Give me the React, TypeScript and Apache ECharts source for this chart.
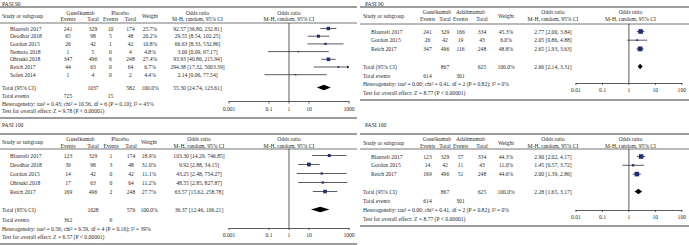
import React, { useEffect, useRef } from "react";
import * as echarts from "echarts";

// ---------- PASI 90: Guselkumab vs Placebo ----------
const p90pTitle = "PASI 90";
const p90pControl = "Placebo";
const p90pStudies = ["Blauvelt 2017", "Deodhar 2018", "Gordon 2015", "Nemoto 2018", "Ohtsuki 2018", "Reich 2017", "Sofen 2014"];
const p90pGusEvents = [241, 65, 26, 1, 347, 44, 1];
const p90pGusTotal = [329, 98, 42, 5, 496, 63, 4];
const p90pCtlEvents = [10, 5, 1, 0, 6, 0, 0];
const p90pCtlTotal = [174, 48, 42, 4, 248, 64, 2];
const p90pWeight = [25.7, 20.2, 10.8, 4.8, 27.4, 6.7, 4.4];
const p90pOR = [92.57, 29.55, 66.63, 3.0, 93.93, 294.38, 2.14];
const p90pLo = [36.8, 8.54, 8.33, 0.09, 40.86, 17.32, 0.06];
const p90pHi = [232.81, 102.25, 532.86, 97.17, 215.94, 5003.39, 77.54];
const p90pTotal = [55.3, 24.74, 123.61]; // OR, lo, hi
const p90pTotals = [1037, 582]; // guselkumab total, control total
const p90pTotalEvents = [725, 15];
const p90pHet = "Heterogeneity: tau² = 0.43; chi² = 10.56, df = 6 (P = 0.10); I² = 43%";
const p90pTest = "Test for overall effect: Z = 9.78 (P < 0.00001)";

// ---------- PASI 90: Guselkumab vs Adalimumab ----------
const p90aTitle = "PASI 90";
const p90aControl = "Adalimumab";
const p90aStudies = ["Blauvelt 2017", "Gordon 2015", "Reich 2017"];
const p90aGusEvents = [241, 26, 347];
const p90aGusTotal = [329, 42, 496];
const p90aCtlEvents = [166, 19, 116];
const p90aCtlTotal = [334, 43, 248];
const p90aWeight = [45.3, 6.0, 48.8];
const p90aOR = [2.77, 2.05, 2.65];
const p90aLo = [2.0, 0.86, 1.93];
const p90aHi = [3.84, 4.88, 3.63];
const p90aTotal = [2.66, 2.14, 3.31];
const p90aTotals = [867, 625];
const p90aTotalEvents = [614, 301];
const p90aHet = "Heterogeneity: tau² = 0.00; chi² = 0.41, df = 2 (P = 0.82); I² = 0%";
const p90aTest = "Test for overall effect: Z = 8.77 (P < 0.00001)";

// ---------- PASI 100: Guselkumab vs Placebo ----------
const p100pTitle = "PASI 100";
const p100pControl = "Placebo";
const p100pStudies = ["Blauvelt 2017", "Deodhar 2018", "Gordon 2015", "Ohtsuki 2018", "Reich 2017"];
const p100pGusEvents = [123, 39, 14, 17, 169];
const p100pGusTotal = [329, 98, 42, 63, 496];
const p100pCtlEvents = [1, 3, 0, 0, 2];
const p100pCtlTotal = [174, 48, 42, 64, 248];
const p100pWeight = [18.9, 31.0, 11.1, 11.2, 27.7];
const p100pOR = [103.3, 9.92, 43.25, 48.55, 63.57];
const p100pLo = [14.29, 2.88, 2.48, 2.85, 15.62];
const p100pHi = [746.85, 34.15, 754.27, 827.87, 258.78];
const p100pTotal = [36.37, 12.46, 106.21];
const p100pTotals = [1028, 576];
const p100pTotalEvents = [362, 6];
const p100pHet = "Heterogeneity: tau² = 0.56; chi² = 6.59, df = 4 (P = 0.16); I² = 39%";
const p100pTest = "Test for overall effect: Z = 6.57 (P < 0.00001)";

// ---------- PASI 100: Guselkumab vs Adalimumab ----------
const p100aTitle = "PASI 100";
const p100aControl = "Adalimumab";
const p100aStudies = ["Blauvelt 2017", "Gordon 2015", "Reich 2017"];
const p100aGusEvents = [123, 14, 169];
const p100aGusTotal = [329, 42, 496];
const p100aCtlEvents = [57, 11, 51];
const p100aCtlTotal = [334, 43, 248];
const p100aWeight = [44.3, 11.0, 44.6];
const p100aOR = [2.9, 1.45, 2.0];
const p100aLo = [2.02, 0.57, 1.39];
const p100aHi = [4.17, 3.72, 2.86];
const p100aTotal = [2.28, 1.65, 3.17];
const p100aTotals = [867, 625];
const p100aTotalEvents = [614, 301];
const p100aHet = "Heterogeneity: tau² = 0.00; chi² = 0.41, df = 2 (P = 0.82); I² = 0%";
const p100aTest = "Test for overall effect: Z = 8.77 (P < 0.00001)";

// axis ticks
const wideTicks = [0.001, 0.1, 1, 10, 1000];
const wideTickLabels = ["0.001", "0.1", "1", "10", "1000"];
const narrowTicks = [0.01, 0.1, 1, 10, 100];
const narrowTickLabels = ["0.01", "0.1", "1", "10", "100"];

const panels = [
  { title: p90pTitle, control: p90pControl, studies: p90pStudies, gE: p90pGusEvents, gT: p90pGusTotal, cE: p90pCtlEvents, cT: p90pCtlTotal, w: p90pWeight, or: p90pOR, lo: p90pLo, hi: p90pHi, total: p90pTotal, totals: p90pTotals, tev: p90pTotalEvents, het: p90pHet, test: p90pTest, ticks: wideTicks, tickLabels: wideTickLabels },
  { title: p90aTitle, control: p90aControl, studies: p90aStudies, gE: p90aGusEvents, gT: p90aGusTotal, cE: p90aCtlEvents, cT: p90aCtlTotal, w: p90aWeight, or: p90aOR, lo: p90aLo, hi: p90aHi, total: p90aTotal, totals: p90aTotals, tev: p90aTotalEvents, het: p90aHet, test: p90aTest, ticks: narrowTicks, tickLabels: narrowTickLabels },
  { title: p100pTitle, control: p100pControl, studies: p100pStudies, gE: p100pGusEvents, gT: p100pGusTotal, cE: p100pCtlEvents, cT: p100pCtlTotal, w: p100pWeight, or: p100pOR, lo: p100pLo, hi: p100pHi, total: p100pTotal, totals: p100pTotals, tev: p100pTotalEvents, het: p100pHet, test: p100pTest, ticks: wideTicks, tickLabels: wideTickLabels },
  { title: p100aTitle, control: p100aControl, studies: p100aStudies, gE: p100aGusEvents, gT: p100aGusTotal, cE: p100aCtlEvents, cT: p100aCtlTotal, w: p100aWeight, or: p100aOR, lo: p100aLo, hi: p100aHi, total: p100aTotal, totals: p100aTotals, tev: p100aTotalEvents, het: p100aHet, test: p100aTest, ticks: narrowTicks, tickLabels: narrowTickLabels },
];

// layout (pixels)
const layouts = [
  { titleX: 2, titleY: 3.5, lx0: 0, lx1: 357, topLine: 7, h1: 12.5, h2: 18.5, headerLine: 23, row0: 28.5, sp: 7.7, totalY: 87.5, eventsY: 96, hetY: 103.5, testY: 111, bottomLine: 118, labelX: 2, nameX: 10, gEx: 68, gTx: 93, gHx: 80.5, cEx: 110.5, cTx: 130.5, cHx: 120, wX: 150, orX: 197.5, gLeft: 229, gWidth: 120, gTop: 23, gBottom: 101.5 },
  { titleX: 365, titleY: 3.5, lx0: 360, lx1: 689, topLine: 7, h1: 12, h2: 19, headerLine: 24, row0: 31.5, sp: 8.7, totalY: 66.5, eventsY: 76, hetY: 84, testY: 92.5, bottomLine: 100, labelX: 363, nameX: 371, gEx: 427.5, gTx: 445, gHx: 437, cEx: 460.5, cTx: 482, cHx: 470.5, wX: 506, orX: 553, gLeft: 576, gWidth: 109, gTop: 24, gBottom: 83 },
  { titleX: 2, titleY: 125, lx0: 0, lx1: 357, topLine: 134, h1: 139, h2: 145.5, headerLine: 149, row0: 155.5, sp: 9, totalY: 209.5, eventsY: 220, hetY: 228.5, testY: 237, bottomLine: 244, labelX: 2, nameX: 10, gEx: 68, gTx: 93, gHx: 80.5, cEx: 111, cTx: 131, cHx: 120, wX: 149, orX: 199, gLeft: 229, gWidth: 120, gTop: 149, gBottom: 228 },
  { titleX: 365, titleY: 125, lx0: 360, lx1: 689, topLine: 134, h1: 139, h2: 146, headerLine: 149, row0: 156.5, sp: 8.8, totalY: 191.5, eventsY: 201, hetY: 210, testY: 219, bottomLine: 226, labelX: 363, nameX: 371, gEx: 427.5, gTx: 445, gHx: 437, cEx: 460.5, cTx: 482, cHx: 470.5, wX: 506, orX: 553, gLeft: 576, gWidth: 109, gTop: 149, gBottom: 210 },
];

const FONT = '"Liberation Serif", "Times New Roman", serif';
const FS = 5.6;
const TXT = "#2a2a2a";
const SQUARE = "#1d2f72";

const fmt = (v: number) => v.toFixed(2);
const ciText = (o: number, l: number, h: number) => `${fmt(o)} [${fmt(l)}, ${fmt(h)}]`;

function text(x: number, y: number, s: string, align: string = "center") {
  return {
    type: "text",
    silent: true,
    x,
    y,
    style: {
      text: s,
      fill: TXT,
      fontSize: FS,
      fontFamily: FONT,
      textAlign: align,
      textVerticalAlign: "middle",
      align,
      verticalAlign: "middle",
    },
  };
}

function hline(x1: number, x2: number, y: number, w: number) {
  return {
    type: "line",
    silent: true,
    shape: { x1, y1: y, x2, y2: y },
    style: { stroke: "#3a3a3a", lineWidth: w },
  };
}

function buildOption() {
  const grid: any[] = [];
  const xAxis: any[] = [];
  const yAxis: any[] = [];
  const series: any[] = [];
  const elements: any[] = [];

  panels.forEach((p, i) => {
    const L = layouts[i];
    const yMin = (L.gTop - L.row0) / L.sp;
    const yMax = (L.gBottom - L.row0) / L.sp;
    const totalRow = (L.totalY - L.row0) / L.sp;
    const xMin = p.ticks[0];
    const xMax = p.ticks[p.ticks.length - 1];
    const rowY = (r: number) => L.row0 + r * L.sp;
    const hMid = (L.h1 + L.h2) / 2;
    const fCenter = L.gLeft + L.gWidth / 2;

    grid.push({ left: L.gLeft, top: L.gTop, width: L.gWidth, height: L.gBottom - L.gTop });
    xAxis.push({
      type: "log",
      logBase: 10,
      gridIndex: i,
      min: xMin,
      max: xMax,
      axisLine: { onZero: false, lineStyle: { color: "#333", width: 0.8 } },
      axisTick: { show: false },
      splitLine: { show: false },
      axisLabel: {
        margin: 4,
        fontSize: FS,
        fontFamily: FONT,
        color: TXT,
        formatter: (v: number) => {
          const e = Math.round(Math.log10(v));
          const k = p.ticks.findIndex((t) => Math.round(Math.log10(t)) === e);
          return k >= 0 ? p.tickLabels[k] : "";
        },
      },
    });
    yAxis.push({ type: "value", gridIndex: i, inverse: true, min: yMin, max: yMax, show: false });

    // vertical line of no effect
    series.push({
      type: "line",
      xAxisIndex: i,
      yAxisIndex: i,
      silent: true,
      symbol: "none",
      data: [[1, yMin], [1, yMax]],
      lineStyle: { color: "#333", width: 0.8 },
    });

    // ticks on the axis
    series.push({
      type: "custom",
      xAxisIndex: i,
      yAxisIndex: i,
      silent: true,
      data: p.ticks.map((t) => [t, yMax]),
      encode: { x: 0, y: 1 },
      renderItem: (_params: any, api: any) => {
        const pt = api.coord([api.value(0), api.value(1)]);
        return { type: "line", shape: { x1: pt[0], y1: pt[1], x2: pt[0], y2: pt[1] + 2 }, style: { stroke: "#333", lineWidth: 0.8 } };
      },
    });

    // studies
    series.push({
      type: "custom",
      xAxisIndex: i,
      yAxisIndex: i,
      silent: true,
      clip: false,
      data: p.studies.map((_, k) => [p.or[k], p.lo[k], p.hi[k], k, p.w[k]]),
      encode: { x: [0, 1, 2], y: 3 },
      renderItem: (_params: any, api: any) => {
        const o = api.value(0);
        const lo = api.value(1);
        const hi = api.value(2);
        const r = api.value(3);
        const w = api.value(4);
        const pl = api.coord([Math.max(lo, xMin), r]);
        const ph = api.coord([Math.min(hi, xMax), r]);
        const po = api.coord([o, r]);
        const s = Math.max(1.4, 0.68 * Math.sqrt(w));
        const children: any[] = [
          { type: "line", shape: { x1: pl[0], y1: pl[1], x2: ph[0], y2: ph[1] }, style: { stroke: "#333", lineWidth: 0.8 } },
          { type: "rect", shape: { x: po[0] - s / 2, y: po[1] - s / 2, width: s, height: s }, style: { fill: SQUARE } },
        ];
        if (hi > xMax) {
          children.push({ type: "polygon", shape: { points: [[ph[0] + 0.5, ph[1]], [ph[0] - 2, ph[1] - 1.5], [ph[0] - 2, ph[1] + 1.5]] }, style: { fill: "#222" } });
        }
        if (lo < xMin) {
          children.push({ type: "polygon", shape: { points: [[pl[0] - 0.5, pl[1]], [pl[0] + 2, pl[1] - 1.5], [pl[0] + 2, pl[1] + 1.5]] }, style: { fill: "#222" } });
        }
        return { type: "group", children };
      },
    });

    // total diamond
    series.push({
      type: "custom",
      xAxisIndex: i,
      yAxisIndex: i,
      silent: true,
      clip: false,
      data: [[p.total[0], p.total[1], p.total[2], totalRow]],
      encode: { x: [0, 1, 2], y: 3 },
      renderItem: (_params: any, api: any) => {
        const r = api.value(3);
        const po = api.coord([api.value(0), r]);
        const pl = api.coord([api.value(1), r]);
        const ph = api.coord([api.value(2), r]);
        const h = 2.7;
        return {
          type: "polygon",
          shape: { points: [[pl[0], po[1]], [po[0], po[1] - h], [ph[0], po[1]], [po[0], po[1] + h]] },
          style: { fill: "#000" },
        };
      },
    });

    // table lines
    elements.push(hline(L.lx0, L.lx1, L.topLine, 1.1));
    elements.push(hline(L.lx0, L.lx1, L.headerLine, 0.7));
    elements.push(hline(L.lx0, L.lx1, L.bottomLine, 1.1));

    // title & header
    elements.push(text(L.titleX, L.titleY, p.title, "left"));
    elements.push(text(L.labelX, hMid, "Study or subgroup", "left"));
    elements.push(text(L.gHx, L.h1, "Guselkumab"));
    elements.push(text(L.gEx, L.h2, "Events"));
    elements.push(text(L.gTx, L.h2, "Total"));
    elements.push(text(L.cHx, L.h1, p.control));
    elements.push(text(L.cEx, L.h2, "Events"));
    elements.push(text(L.cTx, L.h2, "Total"));
    elements.push(text(L.wX, hMid, "Weight"));
    elements.push(text(L.orX, L.h1, "Odds ratio"));
    elements.push(text(L.orX, L.h2, "M-H, random, 95% CI"));
    elements.push(text(fCenter, L.h1, "Odds ratio"));
    elements.push(text(fCenter, L.h2, "M-H, random, 95% CI"));

    // rows
    p.studies.forEach((name, k) => {
      const y = rowY(k);
      elements.push(text(L.nameX, y, name, "left"));
      elements.push(text(L.gEx, y, String(p.gE[k])));
      elements.push(text(L.gTx, y, String(p.gT[k])));
      elements.push(text(L.cEx, y, String(p.cE[k])));
      elements.push(text(L.cTx, y, String(p.cT[k])));
      elements.push(text(L.wX, y, p.w[k].toFixed(1) + "%"));
      elements.push(text(L.orX, y, ciText(p.or[k], p.lo[k], p.hi[k])));
    });

    // totals
    elements.push(text(L.labelX, L.totalY, "Total (95% CI)", "left"));
    elements.push(text(L.gTx, L.totalY, String(p.totals[0])));
    elements.push(text(L.cTx, L.totalY, String(p.totals[1])));
    elements.push(text(L.wX, L.totalY, "100.0%"));
    elements.push(text(L.orX, L.totalY, ciText(p.total[0], p.total[1], p.total[2])));
    elements.push(text(L.labelX, L.eventsY, "Total events", "left"));
    elements.push(text(L.gEx, L.eventsY, String(p.tev[0])));
    elements.push(text(L.cEx, L.eventsY, String(p.tev[1])));
    elements.push(text(L.labelX, L.hetY, p.het, "left"));
    elements.push(text(L.labelX, L.testY, p.test, "left"));
  });

  return {
    animation: false,
    backgroundColor: "#ffffff",
    grid,
    xAxis,
    yAxis,
    series,
    graphic: { elements },
  };
}

export default function App() {
  const ref = useRef<HTMLDivElement>(null);
  useEffect(() => {
    if (!ref.current) return;
    const chart = echarts.init(ref.current, undefined, { renderer: "svg" });
    chart.setOption(buildOption() as any);
    return () => chart.dispose();
  }, []);
  return (
    <div
      ref={ref}
      style={{ position: "fixed", left: 0, top: 0, width: 689, height: 245, background: "#fff" }}
    />
  );
}
